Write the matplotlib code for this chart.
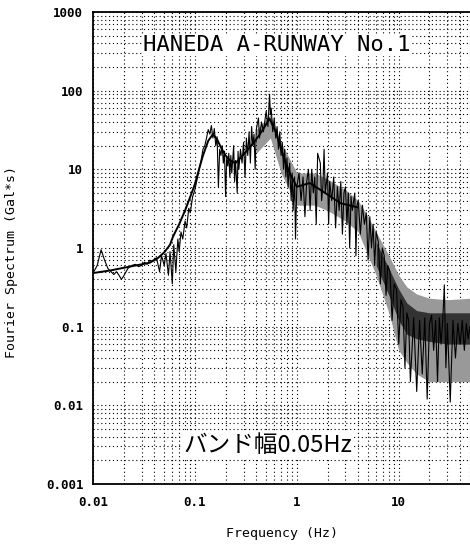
import matplotlib
matplotlib.use("Agg")
import matplotlib.pyplot as plt
from matplotlib.ticker import NullFormatter, LogLocator

# smoothed spectrum (thick black line)
f_smooth = [0.010, 0.015, 0.020, 0.030, 0.036, 0.043, 0.050, 0.057, 0.061, 0.070, 0.080,
            0.089, 0.100, 0.112, 0.120, 0.135, 0.150, 0.165, 0.180, 0.200, 0.220, 0.250,
            0.280, 0.320, 0.380, 0.450, 0.540, 0.620, 0.740, 0.850, 1.00, 1.34, 1.90,
            2.70, 3.90]
a_smooth = [0.48, 0.52, 0.56, 0.62, 0.65, 0.74, 0.88, 1.10, 1.4, 2.0, 3.0,
            4.3, 6.5, 11.0, 15.0, 23.0, 28.0, 24.0, 19.0, 15.0, 13.0, 12.0,
            14.0, 17.0, 22.0, 30.0, 44.0, 30.0, 14.5, 9.0, 6.0, 6.7, 5.0,
            3.7, 3.3]

# raw spectrum (thin black line)
f_raw = [0.010, 0.011, 0.012, 0.013, 0.014, 0.016, 0.017, 0.018, 0.019, 0.020, 0.022,
         0.024, 0.026, 0.028, 0.030, 0.032, 0.034, 0.036, 0.038, 0.040,
         0.042, 0.045, 0.047, 0.050, 0.052, 0.055, 0.057, 0.060, 0.062, 0.065,
         0.068, 0.070, 0.073, 0.076, 0.080, 0.083, 0.087, 0.090, 0.095, 0.100,
         0.105, 0.110, 0.115, 0.120, 0.125, 0.130, 0.135, 0.140, 0.145, 0.150,
         0.155, 0.160, 0.165, 0.170, 0.175, 0.180, 0.185, 0.190, 0.195, 0.200,
         0.205, 0.210, 0.215, 0.220, 0.225, 0.230, 0.240, 0.245, 0.250, 0.260,
         0.265, 0.270, 0.280, 0.290, 0.300,
         0.31, 0.32, 0.33, 0.34, 0.35, 0.36, 0.37, 0.38, 0.39, 0.40,
         0.42, 0.43, 0.45, 0.47, 0.50, 0.52, 0.54, 0.55, 0.56, 0.58,
         0.60, 0.62, 0.64, 0.66, 0.68, 0.70, 0.72, 0.74, 0.76, 0.78,
         0.80, 0.82, 0.85, 0.88, 0.90, 0.92, 0.95, 0.97, 1.00,
         1.05, 1.10, 1.15, 1.20, 1.25, 1.30, 1.35, 1.40, 1.45, 1.50,
         1.55, 1.60, 1.70, 1.75, 1.80, 1.85, 1.90, 2.00, 2.05, 2.10,
         2.20, 2.30, 2.40, 2.50, 2.60, 2.70, 2.80, 2.90, 3.00, 3.10,
         3.20, 3.30, 3.40, 3.50, 3.70, 3.80, 3.90, 4.00, 4.20, 4.40,
         4.60, 4.80, 5.00,
         5.2, 5.4, 5.6, 5.8, 6.0, 6.3, 6.6, 6.9, 7.2, 7.5,
         7.8, 8.2, 8.6, 9.0, 9.5, 10.0, 10.5, 11.0, 11.5, 12.0,
         12.5, 13.0, 14.0, 15.0, 16.0, 17.0, 18.0, 19.0, 20.0, 21.0,
         22.0, 23.0, 24.0, 25.0, 26.0, 27.0, 28.0, 29.0, 30.0, 32.0,
         34.0, 36.0, 38.0, 40.0, 42.0, 44.0, 46.0, 48.0, 50.0]
a_raw = [0.48, 0.60, 0.95, 0.70, 0.55, 0.46, 0.50, 0.45, 0.40, 0.44, 0.55,
         0.60, 0.62, 0.58, 0.60, 0.66, 0.62, 0.70, 0.68, 0.72,
         0.75, 0.50, 0.80, 0.60, 0.85, 0.45, 0.90, 0.35, 1.10, 0.50,
         1.30, 0.90, 1.60, 1.30, 2.20, 1.80, 3.20, 2.80, 4.50, 5.50,
         7.5, 10.0, 13.0, 18.0, 20.0, 25.0, 32.0, 28.0, 36.0, 25.0,
         33.0, 20.0, 26.0, 6.0, 18.0, 15.0, 20.0, 12.0, 17.0, 4.5,
         14.0, 11.0, 16.0, 8.0, 15.0, 9.0, 20.0, 7.0, 13.0, 5.0,
         17.0, 10.0, 18.0, 12.0, 22.0,
         8.0, 25.0, 15.0, 30.0, 12.0, 35.0, 20.0, 28.0, 10.0, 32.0,
         45.0, 25.0, 40.0, 30.0, 55.0, 35.0, 90.0, 50.0, 60.0, 30.0,
         45.0, 25.0, 35.0, 18.0, 30.0, 15.0, 22.0, 10.0, 18.0, 8.0,
         14.0, 6.0, 12.0, 4.0, 9.0, 3.0, 8.0, 1.3, 6.0,
         9.0, 4.0, 8.0, 2.5, 7.0, 10.0, 3.0, 10.0, 5.0, 8.0,
         2.0, 16.0, 12.0, 4.0, 6.0, 18.0, 5.0, 9.0, 2.0, 7.0,
         4.0, 8.0, 1.8, 6.0, 3.0, 7.0, 1.5, 5.0, 6.0, 2.0,
         5.0, 1.0, 4.5, 3.0, 5.0, 0.8, 3.5, 4.0, 1.5, 3.5,
         2.0, 2.8, 0.7,
         2.5, 1.0, 2.0, 0.6, 1.6, 1.2, 0.35, 1.0, 0.8, 0.25,
         0.6, 0.5, 0.12, 0.35, 0.30, 0.06, 0.22, 0.18, 0.03, 0.15,
         0.12, 0.02, 0.13, 0.015, 0.12, 0.025, 0.13, 0.012, 0.11, 0.14,
         0.05, 0.12, 0.02, 0.13, 0.06, 0.12, 0.34, 0.03, 0.11, 0.011,
         0.12, 0.04, 0.11, 0.06, 0.12, 0.05, 0.11, 0.07, 0.10]

# dense part of the raw spectrum at high frequency (dark core)
f_core = [6.0, 8.0, 10.0, 12.0, 15.0, 20.0, 30.0, 40.0, 50.0]
core_hi = [1.2, 0.55, 0.30, 0.20, 0.16, 0.15, 0.15, 0.15, 0.15]
core_lo = [0.6, 0.25, 0.12, 0.08, 0.07, 0.065, 0.06, 0.06, 0.06]

# second component (grey band)
f_grey = [0.40, 0.55, 0.70, 1.0, 1.5, 2.0, 3.0, 4.0, 5.0, 6.0, 8.0, 10.0, 12.0, 15.0, 20.0, 30.0, 50.0]
grey_hi = [32.0, 50.0, 22.0, 9.0, 9.0, 7.5, 5.5, 4.0, 2.5, 1.6, 0.8, 0.45, 0.32, 0.26, 0.23, 0.22, 0.23]
grey_lo = [16.0, 25.0, 9.0, 3.5, 3.5, 3.0, 2.2, 1.6, 0.8, 0.45, 0.15, 0.05, 0.035, 0.025, 0.02, 0.02, 0.02]

xticks = [0.01, 0.1, 1, 10]
xticklabels = ["0.01", "0.1", "1", "10"]
yticks = [0.001, 0.01, 0.1, 1, 10, 100, 1000]
yticklabels = ["0.001", "0.01", "0.1", "1", "10", "100", "1000"]

fig = plt.figure(figsize=(4.7, 5.45), dpi=100)
ax = fig.add_axes([93 / 470, 1 - 484 / 545, 1 - 93 / 470, 472 / 545])

ax.fill_between(f_grey, grey_lo, grey_hi, color="0.6", lw=0, zorder=2)
ax.fill_between(f_core, core_lo, core_hi, color="0.2", lw=0, zorder=2.5)
ax.plot(f_raw, a_raw, color="k", lw=0.8, zorder=3)
ax.plot(f_smooth, a_smooth, color="k", lw=1.4, zorder=4)

ax.set_xscale("log")
ax.set_yscale("log")
ax.set_xlim(0.01, 50)
ax.set_ylim(0.001, 1000)

ax.set_xticks(xticks)
ax.set_xticklabels(xticklabels)
ax.set_yticks(yticks)
ax.set_yticklabels(yticklabels)
ax.xaxis.set_minor_locator(LogLocator(base=10, subs=range(2, 10), numticks=20))
ax.yaxis.set_minor_locator(LogLocator(base=10, subs=range(2, 10), numticks=20))
ax.xaxis.set_minor_formatter(NullFormatter())
ax.yaxis.set_minor_formatter(NullFormatter())
ax.tick_params(which="both", length=0)
ax.tick_params(axis="x", pad=9)
ax.tick_params(axis="y", pad=7)
for lab in ax.get_xticklabels() + ax.get_yticklabels():
    lab.set_fontfamily("DejaVu Sans Mono")
    lab.set_fontweight("bold")
    lab.set_fontsize(9)

ax.grid(which="both", color="k", linestyle=(0, (1, 2.5)), lw=0.8, zorder=1)
ax.set_axisbelow(True)

ax.spines["right"].set_visible(False)
for s in ["left", "bottom", "top"]:
    ax.spines[s].set_linewidth(1.3)

ax.text(277 / 470, 1 - 45 / 545, "HANEDA A-RUNWAY No.1", transform=fig.transFigure, ha="center", va="center",
        family="DejaVu Sans Mono", fontsize=16,
        bbox=dict(facecolor="white", edgecolor="none", pad=1), zorder=5)
ax.text(268 / 470, 1 - 445 / 545, "バンド幅0.05Hz", transform=fig.transFigure, ha="center", va="center",
        family=["Noto Sans CJK JP", "DejaVu Sans"], fontsize=17,
        bbox=dict(facecolor="white", edgecolor="none", pad=1), zorder=5)

fig.text(282 / 470, 1 - 533 / 545, "Frequency (Hz)", ha="center", va="center",
         family="DejaVu Sans Mono", fontsize=9.5)
fig.text(12 / 470, 1 - 262 / 545, "Fourier Spectrum (Gal*s)", ha="center", va="center",
         rotation=90, family="DejaVu Sans Mono", fontsize=9.5)

fig.savefig("out.png", dpi=100)
